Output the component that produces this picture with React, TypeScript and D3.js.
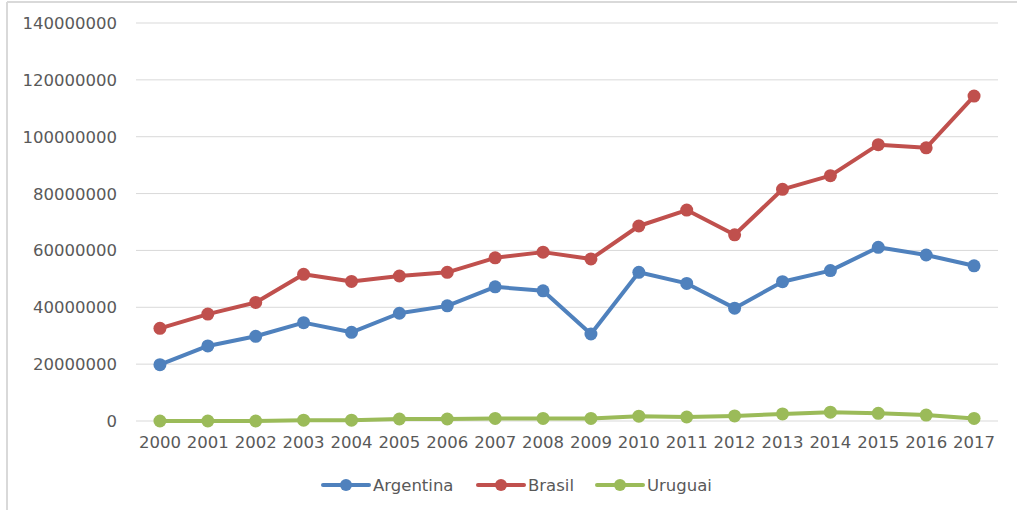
import React from "react";
import * as d3 from "d3";

const years = [
  "2000", "2001", "2002", "2003", "2004", "2005", "2006", "2007", "2008",
  "2009", "2010", "2011", "2012", "2013", "2014", "2015", "2016", "2017",
];

const argentina = [
  19.8, 26.4, 29.8, 34.6, 31.2, 37.9, 40.5, 47.2, 45.8,
  30.6, 52.3, 48.4, 39.7, 49.0, 52.9, 61.1, 58.4, 54.6,
].map((v) => v * 1e6);

const brasil = [
  32.6, 37.6, 41.7, 51.6, 49.1, 51.0, 52.3, 57.4, 59.4,
  57.0, 68.6, 74.2, 65.5, 81.5, 86.3, 97.2, 96.1, 114.3,
].map((v) => v * 1e6);

const uruguai = [
  0.0, 0.0, 0.0, 0.3, 0.3, 0.7, 0.7, 0.9, 0.9,
  0.9, 1.7, 1.4, 1.8, 2.5, 3.1, 2.7, 2.1, 0.9,
].map((v) => v * 1e6);

const yTicks = [0, 20000000, 40000000, 60000000, 80000000, 100000000, 120000000, 140000000];

const seriesList = [
  { name: "Argentina", values: argentina, color: "#4F81BD" },
  { name: "Brasil", values: brasil, color: "#C0504D" },
  { name: "Uruguai", values: uruguai, color: "#9BBB59" },
];

const W = 1017;
const H = 510;
const plot = { left: 136, right: 998, top: 23, bottom: 421 };
const FONT = "'DejaVu Sans', sans-serif";
const TEXT = "#595959";
const FS = 16.5;

export default function App() {
  const x = d3
    .scalePoint<string>()
    .domain(years)
    .range([plot.left, plot.right])
    .padding(0.5);
  const y = d3.scaleLinear().domain([0, 140000000]).range([plot.bottom, plot.top]);

  const line = d3
    .line<number>()
    .x((_, i) => x(years[i]) as number)
    .y((d) => y(d));

  const legendItems = [
    { lineX: 323, textX: 373 },
    { lineX: 478, textX: 528 },
    { lineX: 597, textX: 647 },
  ];
  const legendY = 485;

  return (
    <svg
      width={W}
      height={H}
      style={{ position: "absolute", left: 0, top: 0, background: "#fff" }}
      fontFamily={FONT}
    >
      <rect x={0} y={0} width={W} height={H} fill="#fff" />
      {/* chart frame: only the left and top edges fall inside the view */}
      <line x1={7} x2={7} y1={2} y2={H} stroke="#d9d9d9" strokeWidth={2} />
      <line x1={7} x2={W} y1={2} y2={2} stroke="#d9d9d9" strokeWidth={2} />

      {/* gridlines and y axis labels */}
      {yTicks.map((t) => (
        <g key={t}>
          <line
            x1={plot.left}
            x2={plot.right}
            y1={y(t)}
            y2={y(t)}
            stroke="#d9d9d9"
            strokeWidth={1}
          />
          <text
            x={117}
            y={y(t)}
            dy="0.36em"
            textAnchor="end"
            fontSize={FS}
            fill={TEXT}
          >
            {t}
          </text>
        </g>
      ))}

      {/* x axis labels */}
      {years.map((yr) => (
        <text
          key={yr}
          x={x(yr)}
          y={448}
          textAnchor="middle"
          fontSize={FS}
          fill={TEXT}
        >
          {yr}
        </text>
      ))}

      {/* series lines and markers */}
      {seriesList.map((s) => (
        <g key={s.name}>
          <path
            d={line(s.values) || ""}
            fill="none"
            stroke={s.color}
            strokeWidth={4}
            strokeLinejoin="round"
            strokeLinecap="round"
          />
          {s.values.map((v, i) => (
            <circle key={i} cx={x(years[i])} cy={y(v)} r={6.5} fill={s.color} />
          ))}
        </g>
      ))}

      {/* legend */}
      {seriesList.map((s, i) => {
        const it = legendItems[i];
        return (
          <g key={s.name}>
            <line
              x1={it.lineX}
              x2={it.lineX + 46}
              y1={legendY}
              y2={legendY}
              stroke={s.color}
              strokeWidth={4}
              strokeLinecap="round"
            />
            <circle cx={it.lineX + 23} cy={legendY} r={6} fill={s.color} />
            <text x={it.textX} y={legendY} dy="0.36em" fontSize={FS} fill={TEXT}>
              {s.name}
            </text>
          </g>
        );
      })}
    </svg>
  );
}
